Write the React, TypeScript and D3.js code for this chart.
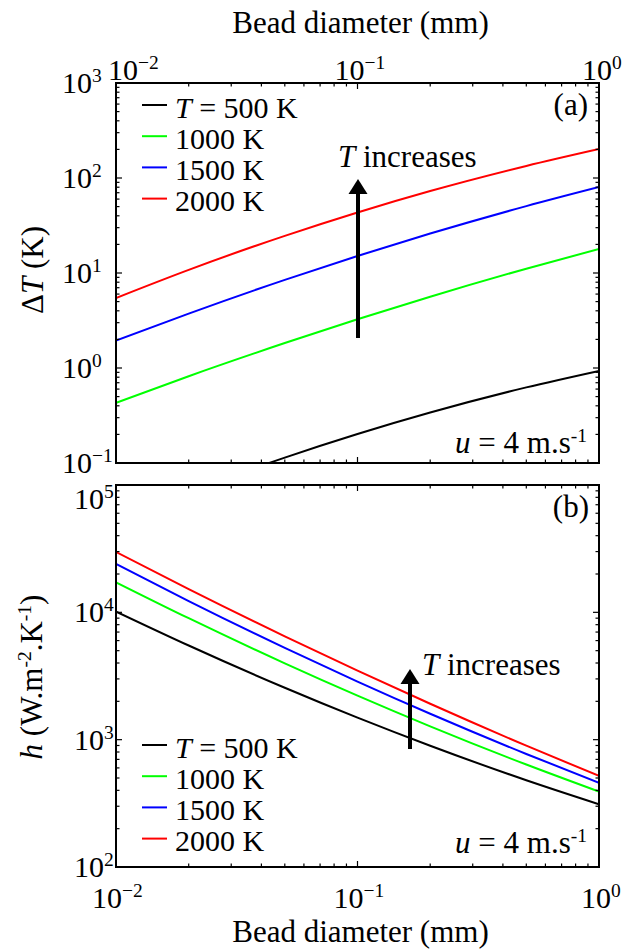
import React from "react";
import * as d3 from "d3";

// ---------- data ----------
const diameters = [0.01, 0.02, 0.05, 0.1, 0.2, 0.5, 1];
const temperatures = [500, 1000, 1500, 2000];
const seriesColors = ["#000000", "#00ff00", "#0000ff", "#ff0000"];

const deltaT500 = [0.0245, 0.0492, 0.114, 0.202, 0.34, 0.625, 0.933];
const deltaT1000 = [0.43, 0.82, 1.83, 3.26, 5.63, 11.1, 17.9];
const deltaT1500 = [1.94, 3.74, 8.47, 15.1, 26.0, 50.6, 80.4];
const deltaT2000 = [5.46, 10.8, 24.6, 43.4, 72.9, 134, 202];

const h500 = [10140, 5487, 2556, 1489, 896, 480, 311];
const h1000 = [17220, 8991, 3978, 2218, 1273, 638, 391];
const h1500 = [23990, 12250, 5254, 2858, 1597, 772, 459];
const h2000 = [29800, 15220, 6478, 3483, 1914, 897, 519];

const xTickValues = [0.01, 0.1, 1];
const xTickExponents = ["\u22122", "\u22121", "0"];
const dtTickValues = [0.1, 1, 10, 100, 1000];
const dtTickExponents = ["\u22121", "0", "1", "2", "3"];
const hTickValues = [100, 1000, 10000, 100000];
const hTickExponents = ["2", "3", "4", "5"];

const FONT = "'Liberation Serif', 'Times New Roman', serif";

// ---------- layout ----------
const W = 622;
const H = 949;
const left = 116;
const right = 599;
const topA = 83;
const botA = 463;
const topB = 485;
const botB = 867;

const x = d3.scaleLog().domain([0.01, 1]).range([left, right]);
const yA = d3.scaleLog().domain([0.1, 1000]).range([botA, topA]);
const yB = d3.scaleLog().domain([100, 100000]).range([botB, topB]);

function minorValues(domain: number[]) {
  const out: number[] = [];
  const lo = Math.round(Math.log10(domain[0]));
  const hi = Math.round(Math.log10(domain[1]));
  for (let e = lo; e < hi; e++) {
    for (let k = 2; k <= 9; k++) out.push(k * Math.pow(10, e));
  }
  return out;
}

function majorValues(domain: number[]) {
  const out: number[] = [];
  const lo = Math.round(Math.log10(domain[0]));
  const hi = Math.round(Math.log10(domain[1]));
  for (let e = lo; e <= hi; e++) out.push(Math.pow(10, e));
  return out;
}

type PanelProps = {
  y: d3.ScaleLogarithmic<number, number>;
  top: number;
  bottom: number;
  series: number[][];
  id: string;
};

function Frame({ y, top, bottom, series, id }: PanelProps) {
  const line = d3
    .line<number>()
    .x((_, i) => x(diameters[i]))
    .y((d) => y(d))
    .curve(d3.curveMonotoneX);
  const xMaj = majorValues(x.domain());
  const xMin = minorValues(x.domain());
  const yMaj = majorValues(y.domain());
  const yMin = minorValues(y.domain());
  const ML = 6;
  const mL = 3.5;
  return (
    <g>
      <defs>
        <clipPath id={id}>
          <rect x={left} y={top} width={right - left} height={bottom - top} />
        </clipPath>
      </defs>
      <g clipPath={`url(#${id})`}>
        {series.map((s, i) => (
          <path key={i} d={line(s) || ""} fill="none" stroke={seriesColors[i]} strokeWidth={2} />
        ))}
      </g>
      <g stroke="#000" strokeWidth={1.2}>
        {xMaj.map((v, i) => (
          <g key={"xM" + i}>
            <line x1={x(v)} x2={x(v)} y1={bottom} y2={bottom - ML} />
            <line x1={x(v)} x2={x(v)} y1={top} y2={top + ML} />
          </g>
        ))}
        {xMin.map((v, i) => (
          <g key={"xm" + i}>
            <line x1={x(v)} x2={x(v)} y1={bottom} y2={bottom - mL} />
            <line x1={x(v)} x2={x(v)} y1={top} y2={top + mL} />
          </g>
        ))}
        {yMaj.map((v, i) => (
          <g key={"yM" + i}>
            <line x1={left} x2={left + ML} y1={y(v)} y2={y(v)} />
            <line x1={right} x2={right - ML} y1={y(v)} y2={y(v)} />
          </g>
        ))}
        {yMin.map((v, i) => (
          <g key={"ym" + i}>
            <line x1={left} x2={left + mL} y1={y(v)} y2={y(v)} />
            <line x1={right} x2={right - mL} y1={y(v)} y2={y(v)} />
          </g>
        ))}
      </g>
      <rect x={left} y={top} width={right - left} height={bottom - top} fill="none" stroke="#000" strokeWidth={2} />
    </g>
  );
}

function Pow({ x0, y0, exp }: { x0: number; y0: number; exp: string }) {
  return (
    <text x={x0} y={y0} fontSize={30}>
      10
      <tspan dy={-11} fontSize={19.5}>
        {exp}
      </tspan>
    </text>
  );
}

function Legend({ y0 }: { y0: number }) {
  return (
    <g>
      {temperatures.map((t, i) => {
        const yy = y0 + i * 31.2;
        return (
          <g key={t}>
            <line x1={142} x2={167} y1={yy} y2={yy} stroke={seriesColors[i]} strokeWidth={2} />
            <text x={175} y={yy + 12.5} fontSize={30}>
              {i === 0 ? (
                <>
                  <tspan fontStyle="italic">T</tspan>
                  {` = ${t} K`}
                </>
              ) : (
                `${t} K`
              )}
            </text>
          </g>
        );
      })}
    </g>
  );
}

function Arrow({ ax, tail, tip }: { ax: number; tail: number; tip: number }) {
  const headLen = 15;
  const half = 9.5;
  return (
    <g>
      <line x1={ax} x2={ax} y1={tail} y2={tip + headLen - 1} stroke="#000" strokeWidth={4} />
      <path d={`M${ax},${tip} L${ax - half},${tip + headLen} L${ax + half},${tip + headLen} Z`} fill="#000" />
    </g>
  );
}

function Velocity({ yb }: { yb: number }) {
  return (
    <text x={587} y={yb} fontSize={31} textAnchor="end">
      <tspan fontStyle="italic">u</tspan>
      {" = 4 m.s"}
      <tspan dy={-11} fontSize={19.5}>
        -1
      </tspan>
    </text>
  );
}

export default function App() {
  const seriesA = [deltaT500, deltaT1000, deltaT1500, deltaT2000];
  const seriesB = [h500, h1000, h1500, h2000];
  const xOff = (i: number) => (xTickExponents[i] === "0" ? -18 : -24);
  return (
    <svg
      width={W}
      height={H}
      style={{ position: "absolute", left: 0, top: 0, background: "#fff" }}
      fontFamily={FONT}
    >
      <rect x={0} y={0} width={W} height={H} fill="#fff" />
      {/* panel a */}
      <Frame y={yA} top={topA} bottom={botA} series={seriesA} id="clipA" />
      {/* panel b */}
      <Frame y={yB} top={topB} bottom={botB} series={seriesB} id="clipB" />

      {/* top x-axis labels */}
      <text x={(left + right) / 2 + 3} y={33} fontSize={31} textAnchor="middle">
        Bead diameter (mm)
      </text>
      {xTickValues.map((v, i) => (
        <Pow key={"tx" + i} x0={x(v) + (i === 0 ? -8 : xOff(i) + 1)} y0={80} exp={xTickExponents[i]} />
      ))}

      {/* bottom x-axis labels */}
      {xTickValues.map((v, i) => (
        <Pow key={"bx" + i} x0={x(v) + xOff(i)} y0={908} exp={xTickExponents[i]} />
      ))}
      <text x={(left + right) / 2 + 3} y={942} fontSize={31} textAnchor="middle">
        Bead diameter (mm)
      </text>

      {/* y tick labels a */}
      {dtTickValues.map((v, i) => (
        <Pow key={"ya" + i} x0={62} y0={yA(v) + 10} exp={dtTickExponents[i]} />
      ))}
      {/* y tick labels b */}
      {hTickValues.map((v, i) => (
        <Pow key={"yb" + i} x0={74} y0={yB(v) + 10 + (i === hTickValues.length - 1 ? 14 : 0)} exp={hTickExponents[i]} />
      ))}

      {/* y titles */}
      <text transform="translate(43,270) rotate(-90)" fontSize={31} textAnchor="middle">
        {"\u0394"}
        <tspan fontStyle="italic">T</tspan>
        {" (K)"}
      </text>
      <text transform="translate(42,677) rotate(-90)" fontSize={31} textAnchor="middle">
        <tspan fontStyle="italic">h</tspan>
        {" (W.m"}
        <tspan dy={-11} fontSize={19.5}>
          -2
        </tspan>
        <tspan dy={11}>.K</tspan>
        <tspan dy={-11} fontSize={19.5}>
          -1
        </tspan>
        <tspan dy={11}>)</tspan>
      </text>

      {/* legends */}
      <Legend y0={105} />
      <Legend y0={745} />

      {/* panel tags */}
      <text x={588} y={115} fontSize={31} textAnchor="end">
        (a)
      </text>
      <text x={589} y={517} fontSize={31} textAnchor="end">
        (b)
      </text>

      <Velocity yb={453} />
      <Velocity yb={853} />

      {/* arrows and annotations */}
      <Arrow ax={358} tail={338} tip={179} />
      <text x={338} y={167} fontSize={31}>
        <tspan fontStyle="italic">T</tspan>
        {" increases"}
      </text>
      <Arrow ax={410} tail={749} tip={669} />
      <text x={422} y={675} fontSize={31}>
        <tspan fontStyle="italic">T</tspan>
        {" increases"}
      </text>
    </svg>
  );
}
